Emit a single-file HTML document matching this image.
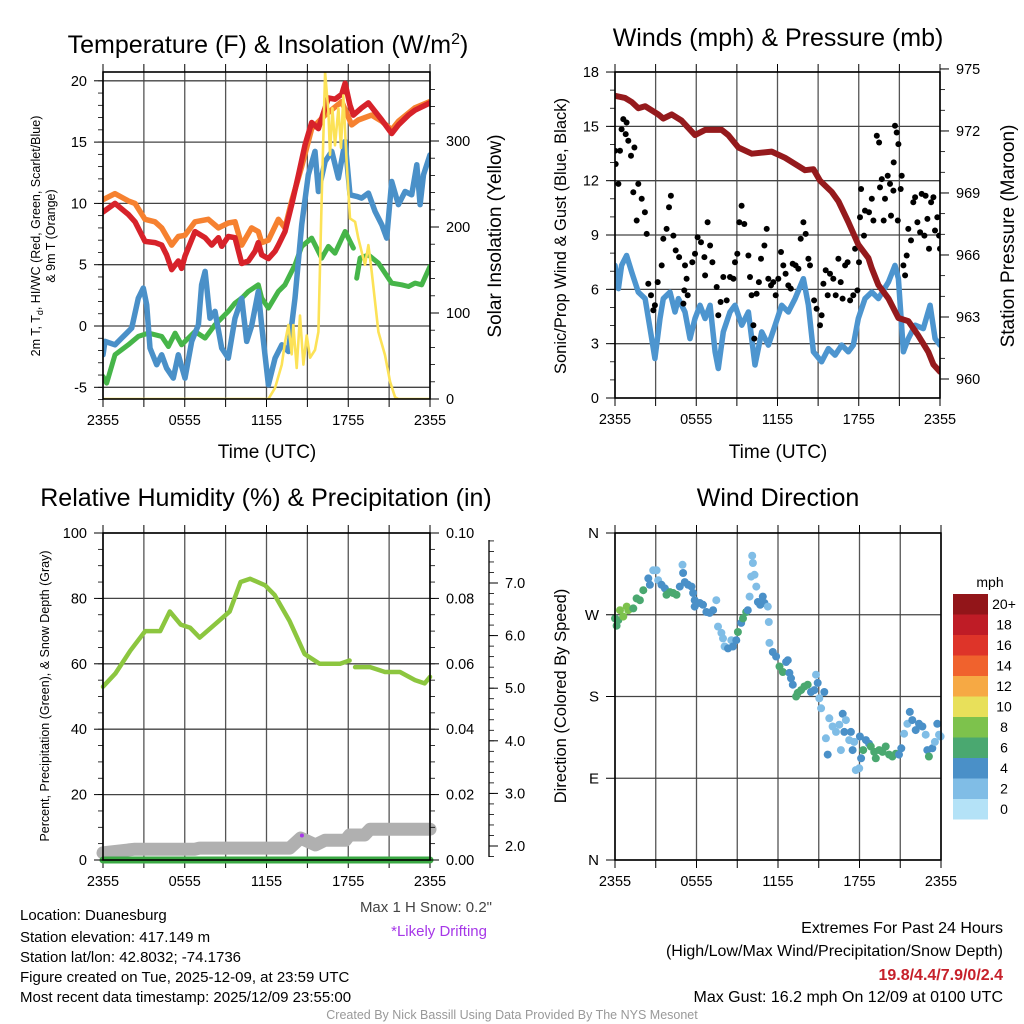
<!DOCTYPE html>
<html><head><meta charset="utf-8"><style>
html,body{margin:0;padding:0;background:#fff}
svg{display:block;font-family:"Liberation Sans",Arial,sans-serif}
</style></head><body>
<svg id="s" width="1024" height="1024" viewBox="0 0 1024 1024" xmlns="http://www.w3.org/2000/svg">
<rect width="1024" height="1024" fill="#fff"/>
<text x="268" y="53" font-size="25" text-anchor="middle">Temperature (F) &amp; Insolation (W/m<tspan dy="-9" font-size="16">2</tspan><tspan dy="9">)</tspan></text>
<text x="778" y="46" font-size="25" text-anchor="middle">Winds (mph) &amp; Pressure (mb)</text>
<text x="266" y="506" font-size="25" text-anchor="middle">Relative Humidity (%) &amp; Precipitation (in)</text>
<text x="778" y="506" font-size="25" text-anchor="middle">Wind Direction</text>
<text x="267" y="458" font-size="19" text-anchor="middle">Time (UTC)</text>
<text x="778" y="458" font-size="19" text-anchor="middle">Time (UTC)</text>
<text transform="translate(40,236) rotate(-90)" font-size="12.5" text-anchor="middle">2m T, T<tspan font-size="9" dy="3">d</tspan><tspan dy="-3">, HI/WC (Red, Green, Scarlet/Blue)</tspan></text>
<text transform="translate(55,236) rotate(-90)" font-size="12.5" text-anchor="middle">&amp; 9m T (Orange)</text>
<text transform="translate(501,236) rotate(-90)" font-size="19" text-anchor="middle">Solar Insolation (Yellow)</text>
<text transform="translate(566,236) rotate(-90)" font-size="16.5" text-anchor="middle">Sonic/Prop Wind &amp; Gust (Blue, Black)</text>
<text transform="translate(1014,236) rotate(-90)" font-size="19" text-anchor="middle">Station Pressure (Maroon)</text>
<text transform="translate(49,696) rotate(-90)" font-size="12.5" text-anchor="middle">Percent, Precipitation (Green), &amp; Snow Depth (Gray)</text>
<text transform="translate(566,696) rotate(-90)" font-size="16.5" text-anchor="middle">Direction (Colored By Speed)</text>
<g font-size="15">
<text x="20" y="920">Location: Duanesburg</text>
<text x="20" y="942">Station elevation: 417.149 m</text>
<text x="20" y="962">Station lat/lon: 42.8032; -74.1736</text>
<text x="20" y="982">Figure created on Tue, 2025-12-09, at 23:59 UTC</text>
<text x="20" y="1002">Most recent data timestamp: 2025/12/09 23:55:00</text>
</g>
<text x="492" y="912" font-size="15" fill="#444" text-anchor="end">Max 1 H Snow: 0.2"</text>
<text x="487" y="936" font-size="15" fill="#a637e8" text-anchor="end">*Likely Drifting</text>
<g font-size="16" text-anchor="end">
<text x="1003" y="933">Extremes For Past 24 Hours</text>
<text x="1003" y="956">(High/Low/Max Wind/Precipitation/Snow Depth)</text>
<text x="1003" y="980" fill="#c6202a" font-weight="bold">19.8/4.4/7.9/0/2.4</text>
<text x="1003" y="1002">Max Gust: 16.2 mph On 12/09 at 0100 UTC</text>
</g>
<text x="512" y="1019" font-size="12.5" fill="#999" text-anchor="middle">Created By Nick Bassill Using Data Provided By The NYS Mesonet</text>
</svg>
<script>
// ---------- data ----------
const timeTickLabels = ["2355","0555","1155","1755","2355"];
const tempTicks = [-5,0,5,10,15,20];
const solarTicks = [0,100,200,300];
const windTicks = [0,3,6,9,12,15,18];
const presTicks = [960,963,966,969,972,975];
const rhTicks = [0,20,40,60,80,100];
const precipTicks = [0,0.02,0.04,0.06,0.08,0.10];
const snowTicks = [2,3,4,5,6,7];
const dirTicks = [0,90,180,270,360];
const dirLabels = ["N","E","S","W","N"];
const speedBins = ["0","2","4","6","8","10","12","14","16","18","20+"];

const redH = [0,0.88,1.86,2.35,3.08,3.82,4.31,4.67,5.04,5.53,5.77,6.02,6.75,7.49,7.98,8.47,8.71,9.2,9.69,10.18,10.67,11.16,11.4,11.65,12.14,12.63,12.87,13.36,13.85,14.34,14.83,15.32,15.81,16.3,16.54,17.03,17.52,17.77,18.13,18.38,18.99,19.48,19.97,20.46,21.19,21.68,22.42,22.9,24];
const redT = [9.3,10.0,9.1,8.5,6.9,6.8,6.6,5.8,4.6,5.3,4.7,5.7,7.7,7.2,6.6,7.2,6.5,7.3,7.2,5.1,5.3,6.1,6.8,5.8,5.5,6.1,6.6,7.7,9.9,12.3,14.8,16.6,16.1,17.8,18.6,18.5,18.9,19.8,18.0,17.2,17.8,18.2,17.5,16.8,15.7,16.4,17.2,17.6,18.2];
const orangeH = [0,0.88,1.86,2.35,3.08,3.82,4.31,5.04,5.53,6.02,6.75,7.73,8.47,9.2,9.69,10.18,10.91,11.4,11.65,12.14,12.87,13.36,13.85,14.58,15.32,16.3,17.52,18.25,18.74,19.72,20.46,21.19,21.68,22.9,24];
const orangeT = [10.3,10.8,10.2,10.0,8.7,8.5,8.0,6.6,7.3,7.4,8.5,8.7,8.0,8.4,8.5,6.6,8.0,7.7,6.8,7.0,8.7,8.0,10.2,13.0,16.1,17.2,18.3,16.4,16.8,17.2,16.7,16.0,16.7,17.8,18.3];
const blueH = [0,0.15,0.88,1.37,2.11,2.59,2.96,3.21,3.45,3.94,4.31,4.67,5.16,5.53,6.02,6.51,7.0,7.24,7.49,7.85,8.22,8.71,9.2,9.69,10.18,10.55,10.91,11.4,11.65,12.14,12.63,13.12,13.61,14.09,14.58,15.07,15.56,15.81,16.3,16.79,17.28,17.77,18.13,18.62,18.99,19.48,19.97,20.46,20.82,21.19,21.68,22.17,22.66,23.03,23.27,23.52,24];
const blueT = [-2.35,-1.26,-1.53,-0.99,-0.17,2.27,3.09,1.73,-1.8,-3.16,-2.35,-3.44,-4.25,-2.35,-4.25,-1.26,0.1,3.36,4.45,0.64,1.19,-1.8,-2.62,0.64,2.27,-1.26,0.0,2.82,0.0,-4.8,-2.62,-1.53,-2.08,2.27,8.26,12.33,14.24,10.97,13.42,14.24,12.06,15.05,10.7,10.57,10.43,10.84,9.34,8.26,7.17,11.79,9.9,10.97,10.7,13.15,9.9,12.33,13.96];
const greenH = [0,0.27,0.88,1.86,2.59,3.33,4.31,4.8,5.29,5.77,6.75,7.49,8.22,9.2,9.69,10.18,10.67,11.4,11.65,12.14,12.87,13.36,14.09,14.58,15.32,16.05,16.54,17.03,17.77,18.38,null,18.62,18.87,19.48,20.21,21.19,21.92,22.42,22.9,23.39,24];
const greenT = [-4.12,-4.66,-2.35,-1.53,-0.85,-0.58,-0.85,-1.67,-0.58,-1.53,-0.45,-0.99,0.1,1.19,1.87,2.27,2.82,3.36,2.27,1.46,2.82,3.36,4.99,6.49,7.17,5.54,6.49,5.94,7.71,6.35,null,3.9,5.54,5.8,5.13,3.5,3.36,3.22,3.5,3.36,4.86];
const solarH = [0,12.14,12.63,13.12,13.36,13.61,13.85,13.97,14.22,14.46,14.71,14.95,15.2,15.56,15.81,16.05,16.3,16.54,16.66,16.84,17.03,17.28,17.47,17.64,17.89,18.13,18.5,18.74,18.99,19.23,19.48,19.72,20.21,20.7,21.07,21.44,21.68,24];
const solarW = [0,0,13,40,66,86,52,86,36,97,40,74,48,57,78,234,380,334,284,338,295,338,292,353,272,210,206,187,171,156,179,148,78,51,20,2,0,0];

const presH = [0,0.74,1.23,1.72,2.22,3.2,3.57,4.19,4.92,5.91,6.65,7.88,8.37,9.11,10.1,11.57,12.56,13.54,14.03,14.65,15.14,16.0,16.5,17.23,17.97,18.71,18.96,19.45,20.19,20.93,21.66,22.4,23.14,23.51,24];
const presMb = [973.7,973.6,973.4,973.1,973.2,972.8,972.6,972.8,972.5,971.8,972.05,972.05,971.8,971.2,970.9,971.0,970.7,970.3,970.1,970.15,969.6,969.05,968.6,967.6,966.5,965.85,965.35,964.55,963.9,962.95,962.8,962.1,961.3,960.7,960.35];
const windH = [0,0.25,0.49,0.86,1.23,1.72,2.22,2.71,2.95,3.32,3.57,4.06,4.43,4.68,5.17,5.54,5.91,6.28,6.65,7.02,7.39,7.63,8.0,8.49,8.86,9.36,9.85,10.34,10.83,11.33,11.82,12.31,12.8,13.3,13.91,14.28,14.65,15.26,15.76,16.25,16.74,17.23,17.6,17.97,18.46,18.96,19.45,20.19,20.68,20.93,21.3,21.66,22.16,22.77,23.27,23.64,24];
const windV = [7.32,6.04,7.32,7.87,6.95,5.85,5.49,3.28,2.18,4.39,5.49,5.85,4.75,5.49,4.75,3.28,4.39,5.12,4.39,5.12,2.55,1.63,3.65,4.75,5.12,4.02,4.75,1.82,3.65,2.92,4.02,5.12,4.75,5.49,6.59,5.12,2.55,2.0,2.73,2.37,2.92,2.55,2.92,4.39,5.49,5.85,5.49,6.4,7.32,6.59,2.55,3.28,4.02,3.83,5.12,3.28,2.92];
const gustH = [0,0.05,0.25,0.37,0.49,0.61,0.86,0.79,0.98,1.18,1.43,1.35,1.72,1.6,1.97,2.21,2.34,2.46,2.66,2.83,2.95,3.15,3.45,3.57,3.81,3.99,4.13,4.31,4.48,4.73,5.17,5.29,5.12,5.37,5.05,5.71,5.91,6.1,6.35,6.6,6.84,7.02,7.19,6.65,7.51,7.63,7.8,8.0,8.25,8.49,8.74,8.86,9.03,9.18,9.35,9.55,9.85,9.97,10.09,10.22,10.29,10.46,10.63,10.78,11.03,11.2,11.32,11.52,11.69,11.87,12.06,12.26,12.43,12.6,12.8,12.98,13.12,13.34,13.54,13.71,13.91,14.08,14.28,14.4,14.7,14.89,15.14,15.26,15.39,15.56,15.71,15.88,16.12,16.3,16.5,16.67,16.81,16.99,17.18,17.36,17.6,17.73,17.9,18.02,18.09,18.17,18.39,18.46,18.76,18.96,19.08,19.33,19.5,19.57,19.7,19.84,19.94,20.14,20.31,20.38,20.56,20.58,20.68,20.8,20.93,20.88,21.1,21.17,21.3,21.42,21.54,21.66,21.86,22.03,22.16,22.33,22.53,22.65,22.85,22.94,23.07,23.19,23.34,23.51,23.63,23.8,23.93,24];
const gustV = [13.65,12.92,11.82,13.65,14.84,15.4,15.21,14.57,14.2,13.38,13.83,11.36,11.82,9.8,11.0,10.26,9.06,6.31,5.67,4.84,5.12,6.4,7.32,8.79,9.34,10.53,11.17,8.97,8.15,7.78,7.32,6.59,5.94,5.67,5.21,7.5,7.96,8.88,8.6,7.78,9.7,8.42,7.5,6.77,6.13,4.57,5.3,6.68,5.39,6.68,6.59,7.5,7.96,9.7,10.62,9.61,7.87,6.68,5.67,4.02,3.28,5.76,6.4,7.69,8.42,9.34,6.59,6.22,6.4,5.67,6.59,8.06,7.32,6.86,6.22,6.04,7.41,7.32,7.14,8.79,9.7,9.06,7.69,7.32,5.39,4.93,4.02,4.57,6.31,7.05,5.67,6.86,6.59,5.67,7.69,6.4,5.49,7.32,7.5,5.39,5.67,8.24,5.94,7.5,9.98,11.54,8.97,10.35,10.26,11.0,9.8,14.48,14.11,11.63,12.09,9.8,11.0,12.27,11.82,10.07,11.45,13.01,15.03,14.66,14.02,9.8,11.54,12.27,7.32,6.77,7.87,9.34,8.7,10.81,11.08,9.7,9.15,11.27,8.97,11.17,9.89,8.24,10.81,11.08,9.25,9.98,8.97,8.24];

const rhH = [0,0.9,2,3.1,4.2,4.9,5.7,6.4,7.1,8.2,9.3,10.1,10.8,11.9,12.6,13.7,14.8,15.9,17.4,18.1,null,18.5,19.6,20.7,21.8,22.9,23.6,24];
const rhPct = [53,57,64,70,70,76,72,71,68,72,76,85,86,84,81,73,63,60,60,61,null,59,59,57.5,57.5,55,54,56];
const precipH = [0,24];
const precipIn = [0,0];
const snowH = [0,2.35,6.75,7.1,13.7,14.5,15.6,16.3,17.8,18.1,19.2,19.6,24];
const snowIn = [1.87,1.94,1.94,1.96,1.96,2.15,2.02,2.11,2.11,2.21,2.21,2.32,2.32];
const driftH = [14.6];
const driftIn = [2.2];

const dirH = [0,0.12,0.24,0.37,0.61,0.86,0.98,1.35,1.59,1.83,2.08,2.45,2.57,2.81,3.06,3.18,3.42,3.67,3.79,4.04,4.28,4.53,4.77,5.01,4.97,5.14,5.38,5.63,5.75,5.87,5.87,6.24,6.48,6.73,6.97,7.22,7.46,7.58,7.83,7.95,8.07,8.32,8.56,8.68,8.93,9.05,9.29,9.42,9.66,9.78,9.91,10.03,10.15,10.1,10.27,10.4,10.52,10.69,10.88,11.0,11.25,11.32,11.37,11.62,11.86,12.11,12.35,12.6,12.72,12.84,12.96,13.09,13.33,13.45,13.7,13.94,14.19,14.43,14.68,14.8,14.92,15.04,15.17,15.41,15.53,15.66,15.78,16.02,16.27,16.51,16.63,16.76,16.88,17.0,17.24,17.37,17.49,17.61,17.73,17.98,18.03,18.12,18.27,18.47,18.71,18.83,19.08,19.2,19.45,19.69,19.93,20.18,20.42,20.67,20.91,21.08,21.28,21.53,21.7,21.89,22.14,22.38,22.63,22.87,22.99,23.11,23.36,23.55,23.73,23.85,23.97];
const dirDeg = [266,258,264,275,268,279,275,277,288,286,297,310,303,319,319,308,303,299,292,295,294,292,301,316,325,306,303,301,294,286,279,283,281,273,272,275,286,257,250,244,235,233,242,235,242,251,261,266,273,275,290,312,327,335,314,301,284,281,290,283,279,262,239,229,224,213,207,218,220,206,200,193,180,184,187,191,193,185,187,204,195,178,167,185,134,116,156,147,141,149,121,161,141,154,132,141,121,130,99,101,136,112,121,132,128,125,119,112,121,119,125,116,114,117,116,123,139,150,163,154,143,150,147,138,121,114,123,130,150,138,136];
const dirSpd = [7,7,7,9,9,9,9,7,7,7,7,5,5,3,3,3,5,5,7,7,7,7,5,5,3,5,5,5,5,5,5,5,5,5,5,5,3,3,3,3,3,5,3,5,5,7,5,7,7,5,3,3,3,3,3,3,5,5,5,5,3,3,3,5,5,7,7,5,5,5,5,5,7,7,7,7,7,5,5,3,5,3,3,5,3,5,3,3,3,3,3,5,5,3,3,5,5,3,3,3,5,5,7,5,5,7,7,7,7,7,7,7,7,7,5,5,3,3,5,5,5,5,5,3,5,7,5,3,5,3,3];

// ---------- helpers ----------
const NS = "http://www.w3.org/2000/svg";
const svg = document.getElementById('s');
function mk(tag, attrs, parent){const e=document.createElementNS(NS,tag);for(const k in attrs)e.setAttribute(k,attrs[k]);(parent||svg).appendChild(e);return e;}
function pathD(xs, ys, fx, fy){let d="",pen=false;for(let i=0;i<xs.length;i++){if(xs[i]===null||ys[i]===null){pen=false;continue;}d+=(pen?"L":"M")+fx(xs[i]).toFixed(1)+","+fy(ys[i]).toFixed(1);pen=true;}return d;}
const binColors = ["#b4e2f7","#80bde6","#4a90c8","#4aa870","#7dc24c","#e8e05a","#f6a944","#f0622d","#de3429","#bf1c26","#921519"];

function panel(name, x0, x1, y0, y1){
  const g = mk('g', {});
  
  
  const xf = h => x0 + h*(x1-x0)/24;
  for(let h=0; h<=24; h+=3){
    const x = xf(h);
    const gl = mk('line',{x1:x,x2:x,y1:y0,y2:y1,stroke:"#555","stroke-width":1.3},g);
    
    
    mk('line',{x1:x,x2:x,y1:y0-8,y2:y0,stroke:"#000","stroke-width":1},g);
    mk('line',{x1:x,x2:x,y1:y1,y2:y1+8,stroke:"#000","stroke-width":1},g);
  }
  timeTickLabels.forEach((t,i)=>{
    const lb = mk('text',{x:xf(i*6),y:y1+26,"font-size":14.5,"text-anchor":"middle"},g);
    lb.textContent = t;
    
    
  });
  return {g, xf};
}
function hgrid(P, x0, x1, ticks, fy){
  ticks.forEach((v,i)=>{
    const y = fy(v);
    const gl = mk('line',{x1:x0,x2:x1,y1:y,y2:y,stroke:"#444","stroke-width":1.3},P.g);
    
    
  });
}
function yaxis(g, x, ticks, fy, labels, side, minorStep, lo, hi, fs){
  const dir = side==='left' ? -1 : 1;
  ticks.forEach((v,i)=>{
    const y = fy(v);
    mk('line',{x1:x,x2:x+dir*9,y1:y,y2:y,stroke:"#000","stroke-width":1},g);
    const lb = mk('text',{x:x+dir*16,y:y+5,"font-size":fs||14.5,"text-anchor":side==='left'?"end":"start"},g);
    lb.textContent = labels ? labels[i] : v;
    
    
  });
  if(minorStep){
    for(let v=lo; v<=hi+1e-9; v+=minorStep){
      const y = fy(v);
      mk('line',{x1:x,x2:x+dir*5,y1:y,y2:y,stroke:"#000","stroke-width":0.8},g);
    }
  }
}
function frame(g,x0,x1,y0,y1){
  const r = mk('rect',{x:x0,y:y0,width:x1-x0,height:y1-y0,fill:"none",stroke:"#000","stroke-width":1.6},g);
  
  
}
function series(g, d, color, w, name, op){
  const p = mk('path',{d:d,fill:"none",stroke:color,"stroke-width":w,"stroke-linejoin":"round","stroke-linecap":"round","stroke-opacity":op||1},g);
  
  
  return p;
}

// ---------- Panel 1: temperature ----------
{
  const x0=103,x1=430,y0=72,y1=399;
  const P = panel('temperature-panel',x0,x1,y0,y1);
  const fy = v => 326 - v*12.26;
  const fs = v => 399 - v*0.86;
  hgrid(P,x0,x1,tempTicks,fy);
  const cp = mk('clipPath',{id:'c1'},P.g); mk('rect',{x:x0,y:y0,width:x1-x0,height:y1-y0},cp);
  const dg = mk('g',{'clip-path':'url(#c1)'},P.g);
  series(dg, pathD(orangeH,orangeT,P.xf,fy), "#f68130", 5.5, 'orange-9m-temp-line');
  series(dg, pathD(redH,redT,P.xf,fy), "#d7222a", 5.5, 'red-2m-temp-line');
  series(dg, pathD(greenH,greenT,P.xf,fy), "#46b549", 5, 'green-dewpoint-line');
  series(dg, pathD(blueH,blueT,P.xf,fy), "#4a90c8", 5.5, 'blue-windchill-line');
  series(dg, pathD(solarH,solarW,P.xf,fs), "#fce257", 2.6, 'yellow-solar-line');
  frame(P.g,x0,x1,y0,y1);
  yaxis(P.g,x0,tempTicks,fy,null,'left',1,-6,20);
  yaxis(P.g,x1,solarTicks,fs,null,'right',20,0,360);
}
// ---------- Panel 2: winds ----------
{
  const x0=615,x1=940,y0=72,y1=398;
  const P = panel('winds-panel',x0,x1,y0,y1);
  const fy = v => 398 - v*18.11;
  const fp = p => 379 - (p-960)*20.67;
  hgrid(P,x0,x1,windTicks,fy);
  const cp = mk('clipPath',{id:'c2'},P.g); mk('rect',{x:x0,y:y0,width:x1-x0,height:y1-y0},cp);
  const dg = mk('g',{'clip-path':'url(#c2)'},P.g);
  series(dg, pathD(windH,windV,P.xf,fy), "#4d95cf", 5.5, 'sonic-wind-line');
  for(let i=0;i<gustH.length;i++){
    const c = mk('circle',{cx:P.xf(gustH[i]).toFixed(1),cy:fy(gustV[i]).toFixed(1),r:3,fill:"#000"},dg);
    
    
  }
  series(dg, pathD(presH,presMb,P.xf,fp), "#951a1d", 6, 'pressure-line');
  frame(P.g,x0,x1,y0,y1);
  yaxis(P.g,x0,windTicks,fy,null,'left',1,0,18);
  yaxis(P.g,x1,presTicks,fp,null,'right',1,960,975);
}
// ---------- Panel 3: humidity ----------
{
  const x0=103,x1=430,y0=533,y1=860;
  const P = panel('humidity-panel',x0,x1,y0,y1);
  const fy = v => 860 - v*3.27;
  const fpr = v => 860 - v*3270;
  const fsn = d => 846 - (d-2)*52.6;
  hgrid(P,x0,x1,rhTicks,fy);
  series(P.g, pathD(snowH,snowIn,P.xf,fsn), "#b0b0b0", 13, 'snow-depth-line');
  series(P.g, pathD(rhH,rhPct,P.xf,fy), "#8cc63f", 4.5, 'relative-humidity-line');
  series(P.g, pathD(precipH,precipIn,P.xf,fpr), "#3aa843", 7, 'precipitation-line');
  for(let i=0;i<driftH.length;i++){
    const c = mk('circle',{cx:P.xf(driftH[i]),cy:fsn(driftIn[i]),r:2,fill:"#a637e8"},P.g);
    
    
  }
  frame(P.g,x0,x1,y0,y1);
  yaxis(P.g,x0,rhTicks,fy,null,'left',5,0,100);
  yaxis(P.g,x1,precipTicks,fpr,precipTicks.map(v=>v.toFixed(2)),'right',0.005,0,0.1);
  const sa = mk('line',{x1:489,x2:489,y1:540,y2:857,stroke:"#000","stroke-width":1.3},P.g);
  
  
  yaxis(P.g,489,snowTicks,fsn,snowTicks.map(v=>v.toFixed(1)),'right',0.2,1.8,7.8);
}
// ---------- Panel 4: direction ----------
{
  const x0=615,x1=941,y0=533,y1=860;
  const P = panel('direction-panel',x0,x1,y0,y1);
  const fy = d => 860 - d*0.9083;
  hgrid(P,x0,x1,dirTicks,fy);
  for(let i=0;i<dirH.length;i++){
    const bin = Math.min(10, Math.floor(dirSpd[i]/2));
    const c = mk('circle',{cx:P.xf(dirH[i]).toFixed(1),cy:fy(dirDeg[i]).toFixed(1),r:4,fill:binColors[bin]},P.g);
    
    
  }
  frame(P.g,x0,x1,y0,y1);
  yaxis(P.g,x0,dirTicks,fy,dirLabels,'left',0,0,0,15);
  const cb = mk('g',{});
  
  
  const t = mk('text',{x:990,y:587,"font-size":14,"text-anchor":"middle"},cb);
  t.textContent = "mph";
  
  
  speedBins.forEach((lab,i)=>{
    const k = speedBins.length-1-i;
    const y = 594 + k*20.5;
    const r = mk('rect',{x:953,y:y,width:35,height:20.5,fill:binColors[i]},cb);
    
    
    const lt = mk('text',{x:1004,y:y+15,"font-size":14,"text-anchor":"middle"},cb);
    lt.textContent = lab;
    
    
  });
}
</script>
</body></html>
